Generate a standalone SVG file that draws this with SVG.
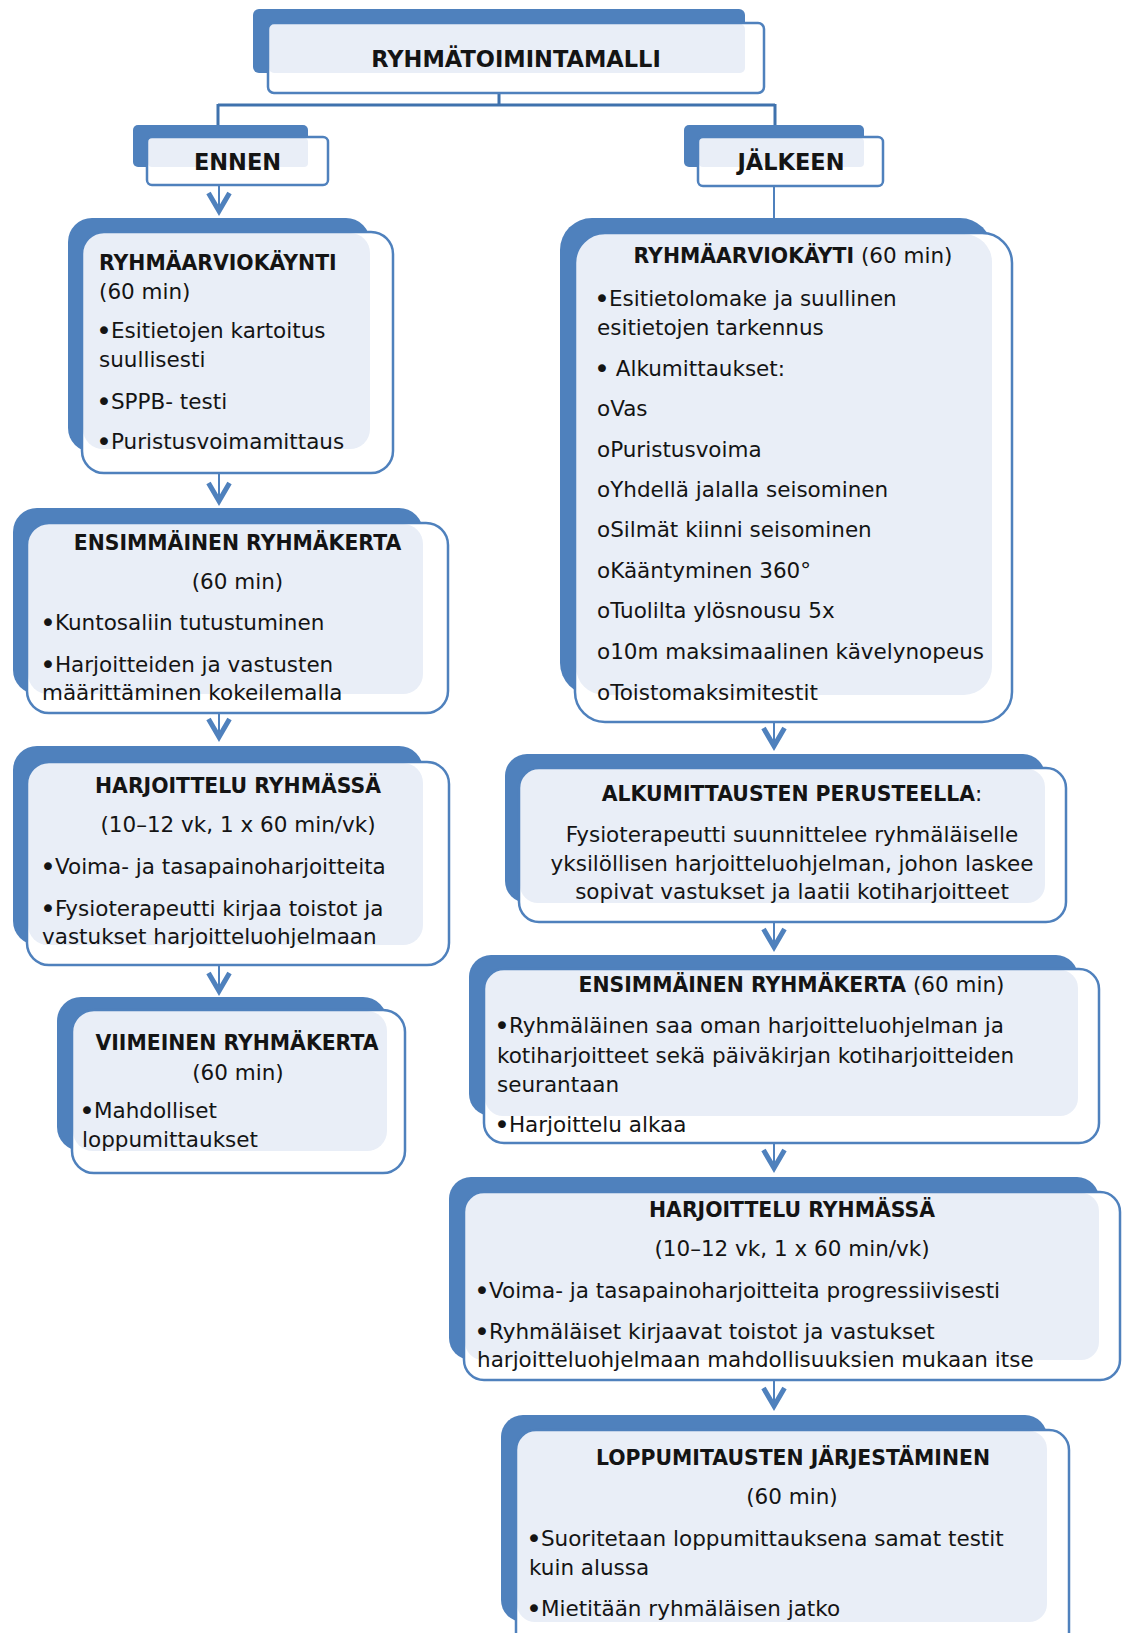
<svg xmlns="http://www.w3.org/2000/svg" width="1123" height="1633" viewBox="0 0 1123 1633">
<defs>
<style>
.back{fill:#4f81bd}
.front{fill:#ffffff}
.light{fill:#e9eef7}
.outline{fill:none;stroke:#4f81bd;stroke-width:2.5}
text{font-family:"DejaVu Sans","Liberation Sans",sans-serif;fill:#141414}
.t{font-size:22.5px;font-weight:bold}
.h{font-size:20.4px;font-weight:bold}
.b{font-size:21.5px}
.r{font-weight:normal;font-size:21.5px}
.m{text-anchor:middle}
.bu{font-size:27px;letter-spacing:-1px}
.bracket{fill:none;stroke:#3f72ad;stroke-width:3}
.stem{fill:none;stroke:#4f81bd;stroke-width:2}
.head{fill:none;stroke:#4f81bd;stroke-width:5;stroke-linejoin:miter}
</style>
</defs>
<rect width="1123" height="1633" fill="#ffffff"/>

<g id="connectors">
<path class="bracket" d="M499,93 V105 M218,105 H775 M218,104 V125 M775,104 V125"/>
<path class="stem" d="M219,185 V210 M219,473 V500 M219,713 V735 M219,965 V990 M774,186 V218 M774,722 V745 M774,922 V946 M774,1143 V1167 M774,1380 V1405"/>
<path class="head" d="M208.5,193 L219,211 L229.5,193 M208.5,483 L219,501 L229.5,483 M208.5,719 L219,737 L229.5,719 M208.5,973 L219,991 L229.5,973 M763.5,728 L774,746 L784.5,728 M763.5,929 L774,947 L784.5,929 M763.5,1150 L774,1168 L784.5,1150 M763.5,1388 L774,1406 L784.5,1388"/>
</g>

<g id="node-top">
<rect class="back" x="253" y="9" width="492" height="64" rx="6"/>
<rect class="front" x="268" y="23" width="496" height="70" rx="6"/>
<rect class="light" x="269" y="24" width="476" height="49" rx="5"/>
<rect class="outline" x="268" y="23" width="496" height="70" rx="6"/>
<text class="t m" x="516" y="67">RYHMÄTOIMINTAMALLI</text>
</g>

<g id="node-ennen">
<rect class="back" x="133" y="125" width="175" height="42" rx="5"/>
<rect class="front" x="147" y="137" width="181" height="48" rx="5"/>
<rect class="light" x="148" y="138" width="160" height="29" rx="4"/>
<rect class="outline" x="147" y="137" width="181" height="48" rx="5"/>
<text class="t m" x="237.5" y="170">ENNEN</text>
</g>

<g id="node-jalkeen">
<rect class="back" x="684" y="125" width="180" height="42" rx="5"/>
<rect class="front" x="698" y="137" width="185" height="49" rx="5"/>
<rect class="light" x="699" y="138" width="165" height="29" rx="4"/>
<rect class="outline" x="698" y="137" width="185" height="49" rx="5"/>
<text class="t m" x="791" y="170">JÄLKEEN</text>
</g>

<g id="node-l1">
<rect class="back" x="68" y="218" width="302" height="234" rx="24"/>
<rect class="front" x="82" y="232" width="311" height="241" rx="22"/>
<rect class="light" x="83" y="233" width="287" height="216" rx="20"/>
<rect class="outline" x="82" y="232" width="311" height="241" rx="22"/>
<text class="h" x="99" y="270">RYHMÄARVIOKÄYNTI</text>
<text class="b" x="99" y="299">(60 min)</text>
<text class="b" x="99" y="338"><tspan class="bu" dx="-3" dy="1.5">•</tspan><tspan dy="-1.5">Esitietojen kartoitus</tspan></text>
<text class="b" x="99" y="367">suullisesti</text>
<text class="b" x="99" y="409"><tspan class="bu" dx="-3" dy="1.5">•</tspan><tspan dy="-1.5">SPPB- testi</tspan></text>
<text class="b" x="99" y="449"><tspan class="bu" dx="-3" dy="1.5">•</tspan><tspan dy="-1.5">Puristusvoimamittaus</tspan></text>
</g>

<g id="node-l2">
<rect class="back" x="13" y="508" width="410" height="186" rx="24"/>
<rect class="front" x="27" y="523" width="421" height="190" rx="22"/>
<rect class="light" x="28" y="524" width="395" height="170" rx="20"/>
<rect class="outline" x="27" y="523" width="421" height="190" rx="22"/>
<text class="h m" x="237.5" y="550">ENSIMMÄINEN RYHMÄKERTA</text>
<text class="b m" x="237.5" y="589">(60 min)</text>
<text class="b" x="43" y="630"><tspan class="bu" dx="-3" dy="1.5">•</tspan><tspan dy="-1.5">Kuntosaliin tutustuminen</tspan></text>
<text class="b" x="43" y="672"><tspan class="bu" dx="-3" dy="1.5">•</tspan><tspan dy="-1.5">Harjoitteiden ja vastusten</tspan></text>
<text class="b" x="42" y="700">määrittäminen kokeilemalla</text>
</g>

<g id="node-l3">
<rect class="back" x="13" y="746" width="410" height="199" rx="24"/>
<rect class="front" x="27" y="762" width="422" height="203" rx="22"/>
<rect class="light" x="28" y="763" width="395" height="182" rx="20"/>
<rect class="outline" x="27" y="762" width="422" height="203" rx="22"/>
<text class="h m" x="238" y="793">HARJOITTELU RYHMÄSSÄ</text>
<text class="b m" x="238" y="832">(10–12 vk, 1 x 60 min/vk)</text>
<text class="b" x="43" y="874"><tspan class="bu" dx="-3" dy="1.5">•</tspan><tspan dy="-1.5">Voima- ja tasapainoharjoitteita</tspan></text>
<text class="b" x="43" y="916"><tspan class="bu" dx="-3" dy="1.5">•</tspan><tspan dy="-1.5">Fysioterapeutti kirjaa toistot ja</tspan></text>
<text class="b" x="42" y="944">vastukset harjoitteluohjelmaan</text>
</g>

<g id="node-l4">
<rect class="back" x="57" y="997" width="330" height="154" rx="24"/>
<rect class="front" x="72" y="1010" width="333" height="163" rx="22"/>
<rect class="light" x="73" y="1011" width="314" height="140" rx="20"/>
<rect class="outline" x="72" y="1010" width="333" height="163" rx="22"/>
<text class="h m" x="237" y="1050">VIIMEINEN RYHMÄKERTA</text>
<text class="b m" x="238" y="1080">(60 min)</text>
<text class="b" x="82" y="1118"><tspan class="bu" dx="-3" dy="1.5">•</tspan><tspan dy="-1.5">Mahdolliset</tspan></text>
<text class="b" x="82" y="1147">loppumittaukset</text>
</g>

<g id="node-r1">
<rect class="back" x="560" y="218" width="432" height="477" rx="32"/>
<rect class="front" x="575" y="233" width="437" height="489" rx="30"/>
<rect class="light" x="576" y="234" width="416" height="461" rx="28"/>
<rect class="outline" x="575" y="233" width="437" height="489" rx="30"/>
<text class="h m" x="793" y="263">RYHMÄARVIOKÄYTI<tspan class="r"> (60 min)</tspan></text>
<text class="b" x="597" y="306"><tspan class="bu" dx="-3" dy="1.5">•</tspan><tspan dy="-1.5">Esitietolomake ja suullinen</tspan></text>
<text class="b" x="597" y="335">esitietojen tarkennus</text>
<text class="b" x="597" y="376"><tspan class="bu" dx="-3" dy="1.5">•</tspan><tspan dy="-1.5"> Alkumittaukset:</tspan></text>
<text class="b" x="597" y="416">oVas</text>
<text class="b" x="597" y="457">oPuristusvoima</text>
<text class="b" x="597" y="497">oYhdellä jalalla seisominen</text>
<text class="b" x="597" y="537">oSilmät kiinni seisominen</text>
<text class="b" x="597" y="578">oKääntyminen 360°</text>
<text class="b" x="597" y="618">oTuolilta ylösnousu 5x</text>
<text class="b" x="597" y="659">o10m maksimaalinen kävelynopeus</text>
<text class="b" x="597" y="700">oToistomaksimitestit</text>
</g>

<g id="node-r2">
<rect class="back" x="505" y="754" width="540" height="149" rx="22"/>
<rect class="front" x="519" y="768" width="547" height="154" rx="20"/>
<rect class="light" x="520" y="769" width="525" height="134" rx="18"/>
<rect class="outline" x="519" y="768" width="547" height="154" rx="20"/>
<text class="h m" x="792" y="801">ALKUMITTAUSTEN PERUSTEELLA<tspan class="r">:</tspan></text>
<text class="b m" x="792" y="842">Fysioterapeutti suunnittelee ryhmäläiselle</text>
<text class="b m" x="792" y="871">yksilöllisen harjoitteluohjelman, johon laskee</text>
<text class="b m" x="792" y="899">sopivat vastukset ja laatii kotiharjoitteet</text>
</g>

<g id="node-r3">
<rect class="back" x="469" y="955" width="609" height="161" rx="22"/>
<rect class="front" x="484" y="969" width="615" height="174" rx="20"/>
<rect class="light" x="485" y="970" width="593" height="146" rx="18"/>
<rect class="outline" x="484" y="969" width="615" height="174" rx="20"/>
<text class="h m" x="791.5" y="992">ENSIMMÄINEN RYHMÄKERTA<tspan class="r"> (60 min)</tspan></text>
<text class="b" x="497" y="1033"><tspan class="bu" dx="-3" dy="1.5">•</tspan><tspan dy="-1.5">Ryhmäläinen saa oman harjoitteluohjelman ja</tspan></text>
<text class="b" x="497" y="1063">kotiharjoitteet sekä päiväkirjan kotiharjoitteiden</text>
<text class="b" x="497" y="1092">seurantaan</text>
<text class="b" x="497" y="1132"><tspan class="bu" dx="-3" dy="1.5">•</tspan><tspan dy="-1.5">Harjoittelu alkaa</tspan></text>
</g>

<g id="node-r4">
<rect class="back" x="449" y="1177" width="650" height="183" rx="22"/>
<rect class="front" x="464" y="1192" width="656" height="188" rx="20"/>
<rect class="light" x="465" y="1193" width="634" height="167" rx="18"/>
<rect class="outline" x="464" y="1192" width="656" height="188" rx="20"/>
<text class="h m" x="792" y="1217">HARJOITTELU RYHMÄSSÄ</text>
<text class="b m" x="792" y="1256">(10–12 vk, 1 x 60 min/vk)</text>
<text class="b" x="477" y="1298"><tspan class="bu" dx="-3" dy="1.5">•</tspan><tspan dy="-1.5">Voima- ja tasapainoharjoitteita progressiivisesti</tspan></text>
<text class="b" x="477" y="1339"><tspan class="bu" dx="-3" dy="1.5">•</tspan><tspan dy="-1.5">Ryhmäläiset kirjaavat toistot ja vastukset</tspan></text>
<text class="b" x="477" y="1367">harjoitteluohjelmaan mahdollisuuksien mukaan itse</text>
</g>

<g id="node-r5">
<rect class="back" x="501" y="1415" width="546" height="207" rx="22"/>
<rect class="front" x="516" y="1430" width="553" height="230" rx="20"/>
<rect class="light" x="517" y="1431" width="530" height="191" rx="18"/>
<rect class="outline" x="516" y="1430" width="553" height="230" rx="20"/>
<text class="h m" x="793" y="1465">LOPPUMITAUSTEN JÄRJESTÄMINEN</text>
<text class="b m" x="792" y="1504">(60 min)</text>
<text class="b" x="529" y="1546"><tspan class="bu" dx="-3" dy="1.5">•</tspan><tspan dy="-1.5">Suoritetaan loppumittauksena samat testit</tspan></text>
<text class="b" x="529" y="1575">kuin alussa</text>
<text class="b" x="529" y="1616"><tspan class="bu" dx="-3" dy="1.5">•</tspan><tspan dy="-1.5">Mietitään ryhmäläisen jatko</tspan></text>
</g>
</svg>
